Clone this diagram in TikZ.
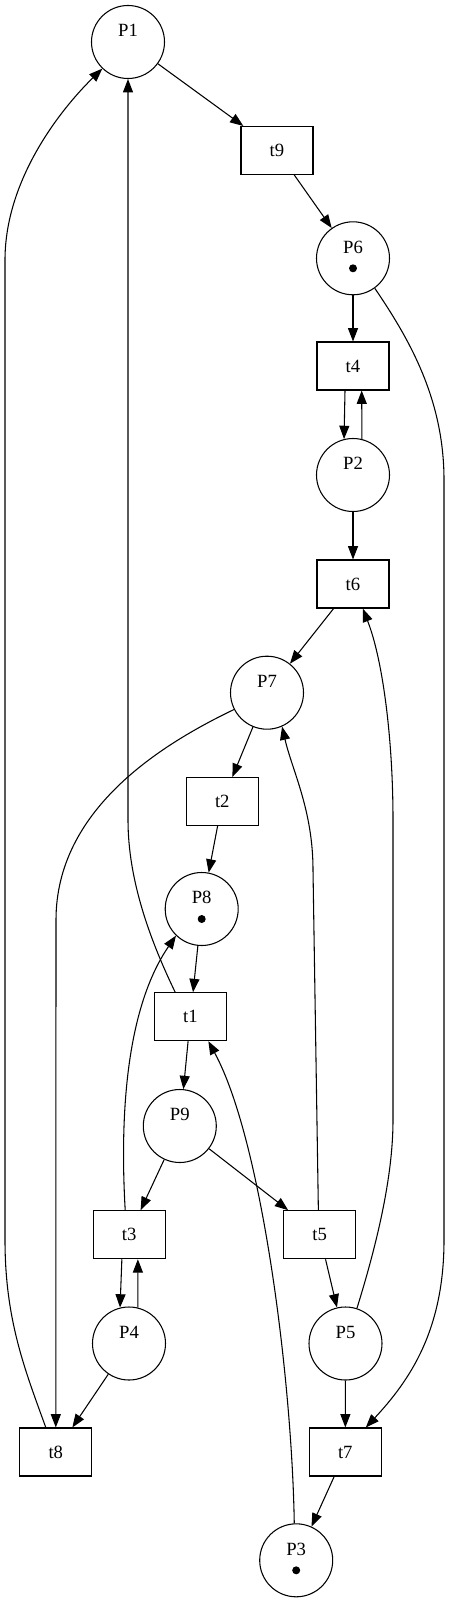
\documentclass[tikz,border=0pt]{standalone}
\usepackage{fontspec}
\setmainfont{Liberation Serif}
\usetikzlibrary{arrows.meta}

\begin{document}
\begin{tikzpicture}[
  x=0.75pt, y=-0.75pt,
  place/.style={circle, draw, line width=0.8pt, minimum size=54.75pt, inner sep=0pt, align=center, font=\fontsize{14}{13}\selectfont},
  trans/.style={rectangle, draw, line width=0.8pt, minimum width=54pt, minimum height=36pt, inner sep=0pt, font=\fontsize{14}{16.8}\selectfont},
  token/.style={circle, fill, minimum size=6pt, inner sep=0pt},
  arc/.style={-{Triangle[length=10pt, width=7.5pt]}, line width=0.8pt}
]
\useasboundingbox (0,0) rectangle (449,1601);

% places
\node[place] (P1) at (128,42) {\strut P1\\\strut};
\node[place] (P6) at (353,258.3) {\strut P6\\\strut};
\node[place] (P2) at (353,475) {\strut P2\\\strut};
\node[place] (P7) at (267,692.7) {\strut P7\\\strut};
\node[place] (P8) at (201.7,909) {\strut P8\\\strut};
\node[place] (P9) at (179.8,1126) {\strut P9\\\strut};
\node[place] (P4) at (129,1343.5) {\strut P4\\\strut};
\node[place] (P5) at (345.5,1343.5) {\strut P5\\\strut};
\node[place] (P3) at (296.2,1560.3) {\strut P3\\\strut};

% tokens
\node[token] (P6dot) at ([yshift=-7.5pt]P6) {};
\node[token] (P8dot) at ([yshift=-7.5pt]P8) {};
\node[token] (P3dot) at ([yshift=-7.5pt]P3) {};

% transitions
\node[trans] (t9) at (277,150.5) {t9};
\node[trans] (t4) at (353,366) {t4};
\node[trans] (t6) at (353,584) {t6};
\node[trans] (t2) at (222.3,801.5) {t2};
\node[trans] (t1) at (190.5,1016.7) {t1};
\node[trans] (t3) at (129.2,1234.7) {t3};
\node[trans] (t5) at (319.7,1234.7) {t5};
\node[trans] (t8) at (55.8,1452) {t8};
\node[trans] (t7) at (345.3,1452) {t7};

% straight arcs
\draw[arc] (P1) -- (t9);
\draw[arc] (t9) -- (P6);
\draw[arc] (P6) -- (t4);
\draw[arc] ([xshift=-6pt]t4.south) -- (P2.104);
\draw[arc] (P2.76) -- ([xshift=6.5pt]t4.south);
\draw[arc] (P2) -- (t6);
\draw[arc] (t6) -- (P7);
\draw[arc] (P7) -- (t2);
\draw[arc] (t2) -- (P8);
\draw[arc] (P8) -- (t1);
\draw[arc] (t1) -- (P9);
\draw[arc] (P9) -- (t3);
\draw[arc] (P9) -- (t5);
\draw[arc] ([xshift=-5.5pt]t3.south) -- (P4.104);
\draw[arc] (P4.76) -- ([xshift=6.5pt]t3.south);
\draw[arc] (P4) -- (t8);
\draw[arc] (t5) -- (P5);
\draw[arc] (P5) -- (t7);
\draw[arc] (t7) -- (P3);

% long arcs
\draw[arc] (P6.-54) .. controls (410,340) and (444,400) .. (444,480)
  -- (444,1240) .. controls (444,1330) and (410,1380) .. ([xshift=-12pt]t7.north east);
\draw[arc] (P7.207) .. controls (160,745) and (56,810) .. (56,920) -- (t8.north);
\draw[arc] ([xshift=-7.5pt]t8.north) .. controls (25,1370) and (5,1320) .. (5,1240)
  -- (5,260) .. controls (5,180) and (60,110) .. (P1.226);
\draw[arc] ([xshift=-11.5pt]t1.north) .. controls (150,940) and (128,880) .. (128,820) -- (P1.south);
\draw[arc] ([xshift=-3pt]t3.north) .. controls (120,1120) and (125,1010) .. (P8.226);
\draw[arc] ([xshift=-1pt]t5.north) -- (313,870) .. controls (313,810) and (292,770) .. (P7.-66);
\draw[arc] (P5.72) .. controls (375,1250) and (393,1180) .. (393,1120)
  -- (393,820) .. controls (393,740) and (383,660) .. ([xshift=7.3pt]t6.south);
\draw[arc] (P3.93) .. controls (292,1380) and (262,1140) .. ([xshift=13.4pt]t1.south);
\end{tikzpicture}
\end{document}
